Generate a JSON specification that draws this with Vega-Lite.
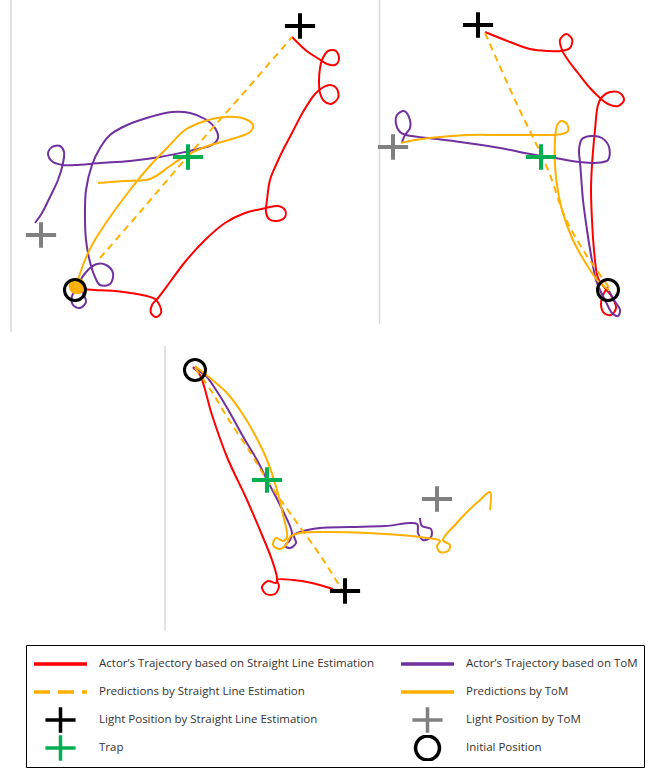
{
  "$schema": "https://vega.github.io/schema/vega-lite/v6.json",
  "width": 652,
  "height": 769,
  "padding": 0,
  "autosize": {"type": "none"},
  "background": "white",
  "config": {
    "view": {"stroke": null},
    "legend": {
      "columns": 2,
      "direction": "horizontal",
      "symbolSize": 2809,
      "symbolStrokeWidth": 3.5,
      "labelFont": "Open Sans",
      "labelFontSize": 11.5,
      "labelColor": "#333333",
      "labelLimit": 400,
      "labelOffset": 10,
      "padding": 6,
      "rowPadding": 2,
      "columnPadding": 24,
      "clipHeight": 26,
      "strokeColor": "#000000",
      "fillColor": "#ffffff"
    }
  },
  "resolve": {"legend": {"color": "independent", "shape": "independent", "strokeDash": "independent"}},
  "datasets": {
    "frames": [
      {"x": 11, "y": 0, "y2": 332},
      {"x": 379.5, "y": 0, "y2": 324},
      {"x": 165, "y": 346, "y2": 631}
    ],
    "dot": [{"p": 1, "s": "ot", "x": 77, "y": 286}],
    "marks": [
      {"p": 1, "s": "bl", "x": 300, "y": 26},
      {"p": 1, "s": "gl", "x": 41, "y": 235},
      {"p": 1, "s": "tr", "x": 188, "y": 157},
      {"p": 1, "s": "ip", "x": 75, "y": 290},
      {"p": 2, "s": "bl", "x": 478, "y": 25},
      {"p": 2, "s": "gl", "x": 393, "y": 147},
      {"p": 2, "s": "tr", "x": 541, "y": 157},
      {"p": 2, "s": "ip", "x": 608, "y": 290},
      {"p": 3, "s": "bl", "x": 345, "y": 591},
      {"p": 3, "s": "gl", "x": 437, "y": 499},
      {"p": 3, "s": "tr", "x": 267, "y": 480},
      {"p": 3, "s": "ip", "x": 195, "y": 370}
    ],
    "traj": [
      {"p":1,"s":"rs","x":76,"y":289},{"p":1,"s":"rs","x":95,"y":290},{"p":1,"s":"rs","x":115,"y":291},{"p":1,"s":"rs","x":137,"y":294},{"p":1,"s":"rs","x":155,"y":299},{"p":1,"s":"rs","x":160,"y":306},{"p":1,"s":"rs","x":161,"y":313},{"p":1,"s":"rs","x":156,"y":317},{"p":1,"s":"rs","x":151,"y":313},{"p":1,"s":"rs","x":152,"y":305},{"p":1,"s":"rs","x":158,"y":298},{"p":1,"s":"rs","x":170,"y":282},{"p":1,"s":"rs","x":185,"y":262},{"p":1,"s":"rs","x":205,"y":240},{"p":1,"s":"rs","x":225,"y":223},{"p":1,"s":"rs","x":245,"y":213},{"p":1,"s":"rs","x":266,"y":208},{"p":1,"s":"rs","x":278,"y":206},{"p":1,"s":"rs","x":285,"y":210},{"p":1,"s":"rs","x":285,"y":217},{"p":1,"s":"rs","x":277,"y":221},{"p":1,"s":"rs","x":269,"y":219},{"p":1,"s":"rs","x":266,"y":212},{"p":1,"s":"rs","x":267,"y":200},{"p":1,"s":"rs","x":270,"y":180},{"p":1,"s":"rs","x":276,"y":165},{"p":1,"s":"rs","x":284,"y":148},{"p":1,"s":"rs","x":292,"y":133},{"p":1,"s":"rs","x":303,"y":112},{"p":1,"s":"rs","x":315,"y":94},{"p":1,"s":"rs","x":322,"y":88},{"p":1,"s":"rs","x":330,"y":85},{"p":1,"s":"rs","x":337,"y":89},{"p":1,"s":"rs","x":338,"y":98},{"p":1,"s":"rs","x":331,"y":104},{"p":1,"s":"rs","x":324,"y":101},{"p":1,"s":"rs","x":320,"y":93},{"p":1,"s":"rs","x":319,"y":82},{"p":1,"s":"rs","x":320,"y":68},{"p":1,"s":"rs","x":322,"y":60},{"p":1,"s":"rs","x":328,"y":51},{"p":1,"s":"rs","x":336,"y":51},{"p":1,"s":"rs","x":339,"y":59},{"p":1,"s":"rs","x":335,"y":65},{"p":1,"s":"rs","x":327,"y":64},{"p":1,"s":"rs","x":319,"y":59},{"p":1,"s":"rs","x":308,"y":52},{"p":1,"s":"rs","x":298,"y":43},{"p":1,"s":"rs","x":292,"y":37},
      {"p":1,"s":"pt","x":77,"y":289},{"p":1,"s":"pt","x":72,"y":296},{"p":1,"s":"pt","x":73,"y":305},{"p":1,"s":"pt","x":80,"y":308},{"p":1,"s":"pt","x":86,"y":302},{"p":1,"s":"pt","x":83,"y":293},{"p":1,"s":"pt","x":80,"y":283},{"p":1,"s":"pt","x":88,"y":270},{"p":1,"s":"pt","x":97,"y":264},{"p":1,"s":"pt","x":106,"y":265},{"p":1,"s":"pt","x":113,"y":273},{"p":1,"s":"pt","x":110,"y":284},{"p":1,"s":"pt","x":100,"y":285},{"p":1,"s":"pt","x":95,"y":277},{"p":1,"s":"pt","x":90,"y":262},{"p":1,"s":"pt","x":86,"y":240},{"p":1,"s":"pt","x":85,"y":215},{"p":1,"s":"pt","x":86,"y":190},{"p":1,"s":"pt","x":92,"y":165},{"p":1,"s":"pt","x":100,"y":148},{"p":1,"s":"pt","x":110,"y":135},{"p":1,"s":"pt","x":125,"y":126},{"p":1,"s":"pt","x":150,"y":117},{"p":1,"s":"pt","x":172,"y":112},{"p":1,"s":"pt","x":190,"y":113},{"p":1,"s":"pt","x":205,"y":119},{"p":1,"s":"pt","x":215,"y":128},{"p":1,"s":"pt","x":218,"y":138},{"p":1,"s":"pt","x":212,"y":145},{"p":1,"s":"pt","x":198,"y":149},{"p":1,"s":"pt","x":185,"y":152},{"p":1,"s":"pt","x":160,"y":157},{"p":1,"s":"pt","x":130,"y":161},{"p":1,"s":"pt","x":100,"y":163},{"p":1,"s":"pt","x":75,"y":165},{"p":1,"s":"pt","x":63,"y":165},{"p":1,"s":"pt","x":53,"y":162},{"p":1,"s":"pt","x":48,"y":154},{"p":1,"s":"pt","x":52,"y":147},{"p":1,"s":"pt","x":60,"y":146},{"p":1,"s":"pt","x":64,"y":152},{"p":1,"s":"pt","x":63,"y":163},{"p":1,"s":"pt","x":58,"y":180},{"p":1,"s":"pt","x":50,"y":197},{"p":1,"s":"pt","x":42,"y":213},{"p":1,"s":"pt","x":35,"y":223},
      {"p":1,"s":"ds","x":100,"y":258},{"p":1,"s":"ds","x":140,"y":212},{"p":1,"s":"ds","x":188,"y":156},{"p":1,"s":"ds","x":240,"y":97},{"p":1,"s":"ds","x":292,"y":37},
      {"p":1,"s":"ot","x":77,"y":284},{"p":1,"s":"ot","x":83,"y":265},{"p":1,"s":"ot","x":92,"y":245},{"p":1,"s":"ot","x":110,"y":217},{"p":1,"s":"ot","x":130,"y":190},{"p":1,"s":"ot","x":148,"y":168},{"p":1,"s":"ot","x":167,"y":148},{"p":1,"s":"ot","x":185,"y":130},{"p":1,"s":"ot","x":205,"y":121},{"p":1,"s":"ot","x":225,"y":117},{"p":1,"s":"ot","x":245,"y":119},{"p":1,"s":"ot","x":253,"y":125},{"p":1,"s":"ot","x":250,"y":132},{"p":1,"s":"ot","x":235,"y":138},{"p":1,"s":"ot","x":205,"y":147},{"p":1,"s":"ot","x":187,"y":155},{"p":1,"s":"ot","x":170,"y":166},{"p":1,"s":"ot","x":150,"y":179},{"p":1,"s":"ot","x":125,"y":181},{"p":1,"s":"ot","x":98,"y":183},
      {"p":2,"s":"rs","x":608,"y":287},{"p":2,"s":"rs","x":603,"y":295},{"p":2,"s":"rs","x":601,"y":305},{"p":2,"s":"rs","x":604,"y":313},{"p":2,"s":"rs","x":611,"y":315},{"p":2,"s":"rs","x":616,"y":308},{"p":2,"s":"rs","x":612,"y":297},{"p":2,"s":"rs","x":604,"y":287},{"p":2,"s":"rs","x":598,"y":278},{"p":2,"s":"rs","x":594,"y":250},{"p":2,"s":"rs","x":592,"y":220},{"p":2,"s":"rs","x":591,"y":190},{"p":2,"s":"rs","x":592,"y":165},{"p":2,"s":"rs","x":595,"y":130},{"p":2,"s":"rs","x":598,"y":105},{"p":2,"s":"rs","x":602,"y":97},{"p":2,"s":"rs","x":610,"y":92},{"p":2,"s":"rs","x":620,"y":93},{"p":2,"s":"rs","x":624,"y":100},{"p":2,"s":"rs","x":618,"y":106},{"p":2,"s":"rs","x":608,"y":104},{"p":2,"s":"rs","x":600,"y":98},{"p":2,"s":"rs","x":590,"y":88},{"p":2,"s":"rs","x":578,"y":73},{"p":2,"s":"rs","x":568,"y":60},{"p":2,"s":"rs","x":562,"y":50},{"p":2,"s":"rs","x":560,"y":40},{"p":2,"s":"rs","x":566,"y":34},{"p":2,"s":"rs","x":572,"y":39},{"p":2,"s":"rs","x":570,"y":48},{"p":2,"s":"rs","x":561,"y":51},{"p":2,"s":"rs","x":548,"y":51},{"p":2,"s":"rs","x":530,"y":49},{"p":2,"s":"rs","x":510,"y":42},{"p":2,"s":"rs","x":485,"y":32},
      {"p":2,"s":"pt","x":609,"y":291},{"p":2,"s":"pt","x":614,"y":300},{"p":2,"s":"pt","x":620,"y":310},{"p":2,"s":"pt","x":618,"y":316},{"p":2,"s":"pt","x":612,"y":313},{"p":2,"s":"pt","x":606,"y":302},{"p":2,"s":"pt","x":600,"y":290},{"p":2,"s":"pt","x":596,"y":280},{"p":2,"s":"pt","x":591,"y":255},{"p":2,"s":"pt","x":587,"y":230},{"p":2,"s":"pt","x":583,"y":200},{"p":2,"s":"pt","x":581,"y":175},{"p":2,"s":"pt","x":580,"y":162},{"p":2,"s":"pt","x":579,"y":150},{"p":2,"s":"pt","x":582,"y":139},{"p":2,"s":"pt","x":592,"y":136},{"p":2,"s":"pt","x":602,"y":138},{"p":2,"s":"pt","x":609,"y":147},{"p":2,"s":"pt","x":608,"y":160},{"p":2,"s":"pt","x":595,"y":163},{"p":2,"s":"pt","x":580,"y":162},{"p":2,"s":"pt","x":555,"y":158},{"p":2,"s":"pt","x":530,"y":154},{"p":2,"s":"pt","x":500,"y":148},{"p":2,"s":"pt","x":460,"y":142},{"p":2,"s":"pt","x":428,"y":138},{"p":2,"s":"pt","x":406,"y":135},{"p":2,"s":"pt","x":400,"y":132},{"p":2,"s":"pt","x":396,"y":124},{"p":2,"s":"pt","x":397,"y":115},{"p":2,"s":"pt","x":404,"y":111},{"p":2,"s":"pt","x":409,"y":117},{"p":2,"s":"pt","x":410,"y":128},{"p":2,"s":"pt","x":405,"y":135},{"p":2,"s":"pt","x":402,"y":142},
      {"p":2,"s":"ds","x":485,"y":33},{"p":2,"s":"ds","x":515,"y":100},{"p":2,"s":"ds","x":548,"y":170},{"p":2,"s":"ds","x":565,"y":217},{"p":2,"s":"ds","x":585,"y":253},{"p":2,"s":"ds","x":611,"y":290},
      {"p":2,"s":"ot","x":609,"y":290},{"p":2,"s":"ot","x":598,"y":281},{"p":2,"s":"ot","x":585,"y":262},{"p":2,"s":"ot","x":572,"y":238},{"p":2,"s":"ot","x":562,"y":210},{"p":2,"s":"ot","x":557,"y":185},{"p":2,"s":"ot","x":555,"y":165},{"p":2,"s":"ot","x":555,"y":140},{"p":2,"s":"ot","x":557,"y":126},{"p":2,"s":"ot","x":561,"y":121},{"p":2,"s":"ot","x":567,"y":124},{"p":2,"s":"ot","x":568,"y":131},{"p":2,"s":"ot","x":562,"y":134},{"p":2,"s":"ot","x":550,"y":135},{"p":2,"s":"ot","x":528,"y":135},{"p":2,"s":"ot","x":500,"y":135},{"p":2,"s":"ot","x":470,"y":135},{"p":2,"s":"ot","x":440,"y":137},{"p":2,"s":"ot","x":415,"y":140},{"p":2,"s":"ot","x":401,"y":143},
      {"p":3,"s":"rs","x":193,"y":367},{"p":3,"s":"rs","x":200,"y":375},{"p":3,"s":"rs","x":212,"y":415},{"p":3,"s":"rs","x":227,"y":457},{"p":3,"s":"rs","x":247,"y":500},{"p":3,"s":"rs","x":262,"y":535},{"p":3,"s":"rs","x":272,"y":560},{"p":3,"s":"rs","x":277,"y":578},{"p":3,"s":"rs","x":276,"y":583},{"p":3,"s":"rs","x":268,"y":581},{"p":3,"s":"rs","x":262,"y":587},{"p":3,"s":"rs","x":266,"y":594},{"p":3,"s":"rs","x":275,"y":594},{"p":3,"s":"rs","x":279,"y":586},{"p":3,"s":"rs","x":277,"y":580},{"p":3,"s":"rs","x":293,"y":580},{"p":3,"s":"rs","x":312,"y":583},{"p":3,"s":"rs","x":333,"y":589},
      {"p":3,"s":"pt","x":193,"y":368},{"p":3,"s":"pt","x":205,"y":375},{"p":3,"s":"pt","x":218,"y":393},{"p":3,"s":"pt","x":230,"y":413},{"p":3,"s":"pt","x":245,"y":440},{"p":3,"s":"pt","x":257,"y":460},{"p":3,"s":"pt","x":267,"y":480},{"p":3,"s":"pt","x":280,"y":505},{"p":3,"s":"pt","x":292,"y":533},{"p":3,"s":"pt","x":290,"y":540},{"p":3,"s":"pt","x":285,"y":546},{"p":3,"s":"pt","x":290,"y":548},{"p":3,"s":"pt","x":296,"y":543},{"p":3,"s":"pt","x":294,"y":535},{"p":3,"s":"pt","x":300,"y":532},{"p":3,"s":"pt","x":320,"y":528},{"p":3,"s":"pt","x":350,"y":527},{"p":3,"s":"pt","x":385,"y":526},{"p":3,"s":"pt","x":417,"y":524},{"p":3,"s":"pt","x":418,"y":533},{"p":3,"s":"pt","x":423,"y":540},{"p":3,"s":"pt","x":431,"y":537},{"p":3,"s":"pt","x":431,"y":529},{"p":3,"s":"pt","x":422,"y":526},{"p":3,"s":"pt","x":420,"y":518},
      {"p":3,"s":"ds","x":195,"y":368},{"p":3,"s":"ds","x":212,"y":392},{"p":3,"s":"ds","x":227,"y":417},{"p":3,"s":"ds","x":250,"y":452},{"p":3,"s":"ds","x":267,"y":480},{"p":3,"s":"ds","x":285,"y":506},{"p":3,"s":"ds","x":300,"y":527},{"p":3,"s":"ds","x":322,"y":558},{"p":3,"s":"ds","x":342,"y":590},
      {"p":3,"s":"ot","x":195,"y":366},{"p":3,"s":"ot","x":210,"y":378},{"p":3,"s":"ot","x":227,"y":393},{"p":3,"s":"ot","x":242,"y":413},{"p":3,"s":"ot","x":255,"y":435},{"p":3,"s":"ot","x":267,"y":460},{"p":3,"s":"ot","x":277,"y":490},{"p":3,"s":"ot","x":283,"y":515},{"p":3,"s":"ot","x":287,"y":537},{"p":3,"s":"ot","x":283,"y":541},{"p":3,"s":"ot","x":276,"y":538},{"p":3,"s":"ot","x":273,"y":545},{"p":3,"s":"ot","x":279,"y":549},{"p":3,"s":"ot","x":286,"y":545},{"p":3,"s":"ot","x":290,"y":537},{"p":3,"s":"ot","x":300,"y":533},{"p":3,"s":"ot","x":330,"y":532},{"p":3,"s":"ot","x":367,"y":533},{"p":3,"s":"ot","x":400,"y":535},{"p":3,"s":"ot","x":427,"y":538},{"p":3,"s":"ot","x":440,"y":541},{"p":3,"s":"ot","x":437,"y":546},{"p":3,"s":"ot","x":440,"y":552},{"p":3,"s":"ot","x":448,"y":551},{"p":3,"s":"ot","x":450,"y":545},{"p":3,"s":"ot","x":443,"y":540},{"p":3,"s":"ot","x":455,"y":525},{"p":3,"s":"ot","x":467,"y":512},{"p":3,"s":"ot","x":480,"y":500},{"p":3,"s":"ot","x":490,"y":492},{"p":3,"s":"ot","x":490,"y":510}
    ]
  },
  "encoding": {
    "x": {"field": "x", "type": "quantitative", "scale": {"domain": [0, 652], "nice": false, "zero": false}, "axis": null},
    "y": {"field": "y", "type": "quantitative", "scale": {"domain": [0, 769], "nice": false, "zero": false, "reverse": true}, "axis": null}
  },
  "layer": [
    {
      "data": {"name": "frames"},
      "mark": {"type": "rule", "color": "#d9d9d9", "strokeWidth": 1.5},
      "encoding": {"y2": {"field": "y2"}}
    },
    {
      "data": {"name": "traj"},
      "transform": [{"filter": "datum.s != 'ds'"}],
      "mark": {"type": "line", "strokeWidth": 2, "interpolate": "catmull-rom", "opacity": 1},
      "encoding": {
        "color": {"field": "s", "type": "nominal", "scale": {"domain": ["rs","pt","ds","ot","bl","gl","tr","ip"], "range": ["#ff0000","#7030a0","#ffb000","#ffb000","#000000","#808080","#00b050","#000000"]}, "legend": null},
        "detail": {"field": "p"},
        "order": {"value": null}
      }
    },
    {
      "data": {"name": "traj"},
      "transform": [{"filter": "datum.s == 'ds'"}],
      "mark": {"type": "line", "strokeWidth": 2, "strokeDash": [7, 5], "interpolate": "catmull-rom", "opacity": 1},
      "encoding": {
        "color": {"field": "s", "type": "nominal", "scale": {"domain": ["rs","pt","ds","ot","bl","gl","tr","ip"], "range": ["#ff0000","#7030a0","#ffb000","#ffb000","#000000","#808080","#00b050","#000000"]}, "legend": null},
        "detail": {"field": "p"},
        "order": {"value": null}
      }
    },
    {
      "data": {"name": "dot"},
      "mark": {"type": "point", "filled": true, "shape": "circle", "size": 280, "opacity": 1},
      "encoding": {
        "color": {"field": "s", "type": "nominal", "scale": {"domain": ["rs","pt","ds","ot","bl","gl","tr","ip"], "range": ["#ff0000","#7030a0","#ffb000","#ffb000","#000000","#808080","#00b050","#000000"]}, "legend": null}
      }
    },
    {
      "data": {"name": "marks"},
      "transform": [{"filter": "datum.s == 'ip'"}],
      "mark": {"type": "point", "filled": false, "size": 2180, "strokeWidth": 3, "opacity": 1},
      "encoding": {
        "color": {"field": "s", "type": "nominal", "scale": {"domain": ["rs","pt","ds","ot","bl","gl","tr","ip"], "range": ["#ff0000","#7030a0","#ffb000","#ffb000","#000000","#808080","#00b050","#000000"]}, "legend": null},
        "shape": {"field": "s", "type": "nominal", "scale": {"domain": ["rs","pt","ds","ot","bl","gl","tr","ip"], "range": ["M-1,0H1","M-1,0H1","M-1,0H1","M-1,0H1","M-0.57,0H0.57M0,-0.48V0.48","M-0.57,0H0.57M0,-0.48V0.48","M-0.57,0H0.57M0,-0.48V0.48","M0.45,0A0.45,0.45,0,1,1,-0.45,0A0.45,0.45,0,1,1,0.45,0Z"]}, "legend": null}
      }
    },
    {
      "data": {"name": "marks"},
      "transform": [{"filter": "datum.s != 'ip'"}],
      "mark": {"type": "point", "filled": false, "size": 2809, "strokeWidth": 4, "opacity": 1},
      "encoding": {
        "color": {"field": "s", "type": "nominal", "scale": {"domain": ["rs","pt","ds","ot","bl","gl","tr","ip"], "range": ["#ff0000","#7030a0","#ffb000","#ffb000","#000000","#808080","#00b050","#000000"]},
          "legend": {"orient": "none", "legendX": 26, "legendY": 645, "title": null, "labelExpr": "{'rs':'Actor\u2019s Trajectory based on Straight Line Estimation','pt':'Actor\u2019s Trajectory based on ToM','ds':'Predictions by Straight Line Estimation','ot':'Predictions by ToM','bl':'Light Position by Straight Line Estimation','gl':'Light Position by ToM','tr':'Trap','ip':'Initial Position'}[datum.label]"}},
        "shape": {"field": "s", "type": "nominal", "scale": {"domain": ["rs","pt","ds","ot","bl","gl","tr","ip"], "range": ["M-1,0H1","M-1,0H1","M-1,0H1","M-1,0H1","M-0.57,0H0.57M0,-0.48V0.48","M-0.57,0H0.57M0,-0.48V0.48","M-0.57,0H0.57M0,-0.48V0.48","M0.45,0A0.45,0.45,0,1,1,-0.45,0A0.45,0.45,0,1,1,0.45,0Z"]},
          "legend": {"orient": "none", "legendX": 26, "legendY": 645, "title": null, "labelExpr": "{'rs':'Actor\u2019s Trajectory based on Straight Line Estimation','pt':'Actor\u2019s Trajectory based on ToM','ds':'Predictions by Straight Line Estimation','ot':'Predictions by ToM','bl':'Light Position by Straight Line Estimation','gl':'Light Position by ToM','tr':'Trap','ip':'Initial Position'}[datum.label]"}},
        "strokeDash": {"field": "s", "type": "nominal", "scale": {"domain": ["rs","pt","ds","ot","bl","gl","tr","ip"], "range": [[1,0],[1,0],[16,8],[1,0],[1,0],[1,0],[1,0],[1,0]]},
          "legend": {"orient": "none", "legendX": 26, "legendY": 645, "title": null, "labelExpr": "{'rs':'Actor\u2019s Trajectory based on Straight Line Estimation','pt':'Actor\u2019s Trajectory based on ToM','ds':'Predictions by Straight Line Estimation','ot':'Predictions by ToM','bl':'Light Position by Straight Line Estimation','gl':'Light Position by ToM','tr':'Trap','ip':'Initial Position'}[datum.label]"}}
      }
    }
  ]
}
